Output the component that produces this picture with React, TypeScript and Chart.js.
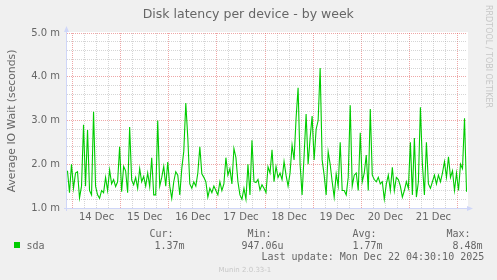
import { useEffect, useRef } from 'react';
import { Chart, registerables } from 'chart.js';

Chart.register(...registerables);

// ---- data ----
const TITLE = 'Disk latency per device - by week';
const Y_TITLE = 'Average IO Wait (seconds)';
const SERIES_NAME = 'sda';
const DAY_LABELS = ['14 Dec', '15 Dec', '16 Dec', '17 Dec', '18 Dec', '19 Dec', '20 Dec', '21 Dec'];
const Y_TICK_LABELS = ['1.0 m', '2.0 m', '3.0 m', '4.0 m', '5.0 m'];
// hours relative to 14 Dec 00:00; one sample per hour
const START_HOUR = -2.5;
const STEP_HOURS = 1;
const LATENCY_MS = [
  1.85, 1.35, 2.0, 1.45, 1.8, 1.83, 1.23, 1.5, 2.9, 1.5,
  2.78, 1.4, 1.3, 3.2, 1.5, 1.3, 1.22, 1.4, 1.35, 1.7,
  1.4, 1.87, 1.55, 1.65, 1.49, 1.6, 2.4, 1.37, 1.95, 1.85,
  1.35, 2.85, 1.64, 1.53, 1.7, 1.45, 1.9, 1.6, 1.72, 1.5,
  1.8, 1.49, 2.15, 1.3, 1.3, 3.0, 1.5, 1.7, 1.95, 1.5,
  2.05, 1.5, 1.22, 1.6, 1.83, 1.75, 1.3, 1.9, 2.3, 3.4,
  2.6, 1.55, 1.45, 1.6, 1.5, 1.8, 2.4, 1.78, 1.7, 1.6,
  1.25, 1.45, 1.35, 1.5, 1.4, 1.3, 1.6, 1.4, 1.55, 2.15,
  1.75, 1.9, 1.55, 2.36, 2.15, 1.6, 1.3, 1.2, 1.45, 1.2,
  2.0, 1.3, 2.55, 1.6, 1.58, 1.65, 1.41, 1.53, 1.45, 1.35,
  1.94, 1.8, 2.33, 1.6, 1.95, 1.7, 1.8, 1.65, 2.06, 1.75,
  1.5, 1.8, 2.44, 2.1, 3.05, 3.75, 2.0, 1.3, 2.2, 3.15,
  2.0, 2.6, 3.1, 2.1, 2.8, 3.0, 4.2, 2.1, 1.75, 1.3,
  2.29, 2.0, 1.6, 1.25, 1.78, 1.5, 2.5, 1.4, 1.4, 1.3,
  1.7, 3.35, 1.5, 1.75, 1.8, 1.4, 2.72, 1.6, 1.8, 2.21,
  1.4, 3.26, 1.75, 1.65, 1.6, 1.7, 1.55, 1.6, 1.2, 1.55,
  1.75, 1.4, 1.93, 1.4, 1.7, 1.65, 1.5, 1.25, 1.4, 1.6,
  1.45, 2.5, 1.3, 2.6, 1.25, 1.6, 3.3, 2.0, 1.3, 2.5,
  1.55, 1.45, 1.6, 1.75, 1.55, 1.75, 1.6, 1.8, 2.06, 1.7,
  2.17, 1.7, 1.85, 1.4, 1.8, 1.4, 2.0, 1.9, 3.05, 1.37,
];
const LEGEND_HEADERS = ['Cur:', 'Min:', 'Avg:', 'Max:'];
const LEGEND_VALUES = ['1.37m', '947.06u', '1.77m', '8.48m'];
const LAST_UPDATE = 'Last update: Mon Dec 22 04:30:10 2025';
const FOOTER = 'Munin 2.0.33-1';
const WATERMARK = 'RRDTOOL / TOBI OETIKER';

// ---- layout / style ----
const W = 497;
const H = 280;
const PX_PER_HOUR = 2.00521;
const X_MIN = -5.5 / PX_PER_HOUR;
const X_MAX = X_MIN + 400 / PX_PER_HOUR;
const FONT = "'DejaVu Sans', sans-serif";
const MONO = "'DejaVu Sans Mono', monospace";
const TEXT = '#666666';
const FAINT = '#C7C7C7';
const AXIS = '#CFD6F8';
const GREEN = '#00CC00';
const MINOR = 'rgba(150,150,150,0.4)';
const MAJOR = 'rgba(222,79,79,0.5)';

const HEADER_X = [150, 248, 353, 447];
const VALUE_X = [155, 242, 353, 453];

const decoPlugin = {
  id: 'deco',
  beforeDraw(chart: any) {
    const { ctx, chartArea: a } = chart;
    ctx.save();
    ctx.fillStyle = '#F0F0F0';
    ctx.fillRect(0, 0, W, H);
    ctx.fillStyle = '#FFFFFF';
    ctx.fillRect(a.left, a.top - 1, a.right - a.left + 1, a.bottom - a.top + 1);
    ctx.restore();
  },
  afterDraw(chart: any) {
    const { ctx, chartArea: a } = chart;
    ctx.save();
    // axes
    ctx.strokeStyle = AXIS;
    ctx.lineWidth = 1;
    ctx.beginPath();
    ctx.moveTo(a.left - 0.5, a.top - 4);
    ctx.lineTo(a.left - 0.5, a.bottom + 3);
    ctx.moveTo(a.left - 3, a.bottom + 0.5);
    ctx.lineTo(a.right + 1, a.bottom + 0.5);
    ctx.stroke();
    ctx.fillStyle = AXIS;
    ctx.beginPath();
    ctx.moveTo(a.left - 0.5, a.top - 7);
    ctx.lineTo(a.left - 3, a.top - 1);
    ctx.lineTo(a.left + 2, a.top - 1);
    ctx.closePath();
    ctx.fill();
    ctx.beginPath();
    ctx.moveTo(a.right + 6, a.bottom + 0.5);
    ctx.lineTo(a.right, a.bottom - 2);
    ctx.lineTo(a.right, a.bottom + 3);
    ctx.closePath();
    ctx.fill();

    // title
    ctx.fillStyle = TEXT;
    ctx.font = `12.5px ${FONT}`;
    ctx.textAlign = 'center';
    ctx.textBaseline = 'alphabetic';
    ctx.fillText(TITLE, 248.3, 18);

    // y title
    ctx.save();
    ctx.translate(15, 121);
    ctx.rotate(-Math.PI / 2);
    ctx.font = `10.8px ${FONT}`;
    ctx.textAlign = 'center';
    ctx.fillText(Y_TITLE, 0, 0);
    ctx.restore();

    // right watermark
    ctx.save();
    ctx.translate(486, 5);
    ctx.rotate(Math.PI / 2);
    ctx.font = `8px ${FONT}`;
    ctx.fillStyle = FAINT;
    ctx.textAlign = 'left';
    ctx.fillText(WATERMARK, 0, 0);
    ctx.restore();

    // legend
    ctx.fillStyle = GREEN;
    ctx.fillRect(14, 242, 6, 6);
    ctx.fillStyle = TEXT;
    ctx.font = `10px ${MONO}`;
    ctx.textAlign = 'left';
    ctx.fillText(SERIES_NAME, 26.5, 249);
    LEGEND_HEADERS.forEach((t, i) => ctx.fillText(t, HEADER_X[i] - 0.5, 237));
    LEGEND_VALUES.forEach((t, i) => ctx.fillText(t, VALUE_X[i] - 0.5, 249));
    ctx.fillText(LAST_UPDATE, 261.5, 260);

    // footer
    ctx.fillStyle = FAINT;
    ctx.font = `7px ${FONT}`;
    ctx.fillText(FOOTER, 218.5, 272);
    ctx.restore();
  },
};

export default function App() {
  const ref = useRef<HTMLCanvasElement>(null);
  useEffect(() => {
    const canvas = ref.current;
    if (!canvas) return;
    const points = LATENCY_MS.map((v, i) => ({ x: START_HOUR + i * STEP_HOURS, y: v }));
    const isInt = (v: number) => Math.abs(v - Math.round(v)) < 1e-6;
    const chart = new Chart(canvas, {
      type: 'line',
      data: {
        datasets: [
          {
            label: SERIES_NAME,
            data: points,
            borderColor: GREEN,
            borderWidth: 1.1,
            pointRadius: 0,
            tension: 0,
            fill: false,
          },
        ],
      },
      options: {
        animation: false,
        responsive: false,
        devicePixelRatio: 1,
        layout: { padding: { left: 0, right: 30, top: 33, bottom: 0 } },
        plugins: {
          legend: { display: false },
          tooltip: { enabled: false },
          title: { display: false },
        },
        scales: {
          x: {
            type: 'linear',
            min: X_MIN,
            max: X_MAX,
            afterBuildTicks: (scale: any) => {
              const t = [];
              for (let h = 0; h <= X_MAX; h += 6) t.push({ value: h });
              scale.ticks = t;
            },
            afterFit: (scale: any) => {
              scale.height = 72;
            },
            grid: {
              drawTicks: false,
              lineWidth: 1,
              color: (c: any) => (c.tick && c.tick.value % 24 === 0 ? MAJOR : MINOR),
            },
            border: { display: false, dash: [1, 1] },
            ticks: {
              autoSkip: false,
              maxRotation: 0,
              minRotation: 0,
              padding: 3,
              color: TEXT,
              font: { family: FONT, size: 10 },
              callback: (value: any) => {
                const h = Number(value);
                if (h % 24 === 12) return DAY_LABELS[(h - 12) / 24] ?? '';
                return '';
              },
            },
          },
          y: {
            type: 'linear',
            min: 1,
            max: 5,
            afterFit: (scale: any) => {
              scale.width = 67;
            },
            grid: {
              drawTicks: false,
              lineWidth: 1,
              color: (c: any) => {
                const v = c.tick ? c.tick.value : 0;
                if (isInt(v)) return Math.round(v) === 1 ? 'rgba(0,0,0,0)' : MAJOR;
                return MINOR;
              },
            },
            border: { display: false, dash: [1, 1] },
            ticks: {
              stepSize: 0.2,
              autoSkip: false,
              padding: 7,
              color: TEXT,
              font: { family: FONT, size: 10 },
              callback: (value: any) => {
                const v = Number(value);
                if (!isInt(v)) return '';
                return Y_TICK_LABELS[Math.round(v) - 1] ?? '';
              },
            },
          },
        },
      },
      plugins: [decoPlugin],
    });
    return () => chart.destroy();
  }, []);
  return (
    <div style={{ position: 'fixed', left: 0, top: 0, width: W, height: H, background: '#F0F0F0' }}>
      <canvas ref={ref} width={W} height={H} style={{ display: 'block', width: W, height: H }} />
    </div>
  );
}
